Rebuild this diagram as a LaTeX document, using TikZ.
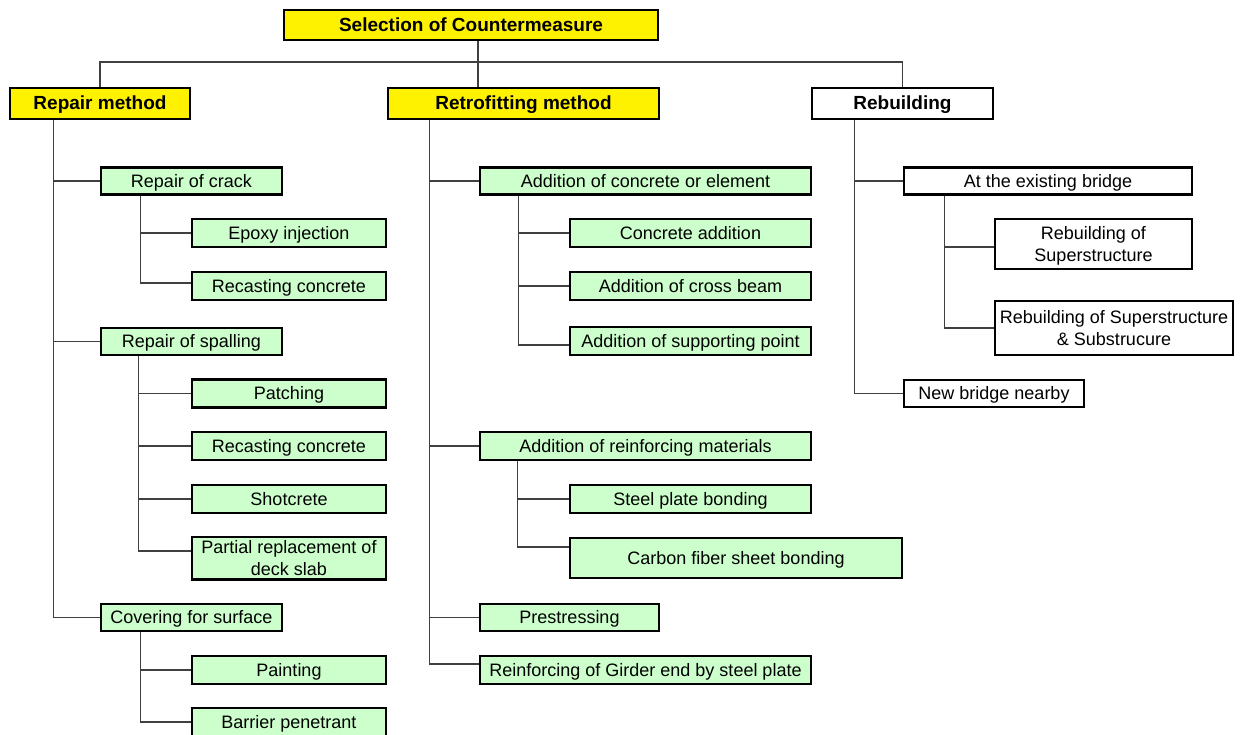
\documentclass[tikz,border=0pt]{standalone}
\usepackage{fontspec}
\setmainfont{Liberation Sans}
\begin{document}
\begin{tikzpicture}[x=1pt,y=-1pt,
  box/.style={draw=black, line width=2.6pt, inner sep=0pt, align=center,
    text height=16.6pt, text depth=3.8pt,
    font=\fontsize{18}{22}\selectfont},
  two/.style={text height=38.6pt, text depth=3.8pt},
  ybox/.style={box, fill=yellow, font=\fontsize{19}{22}\selectfont\bfseries},
  gbox/.style={box, fill=green!20},
  wbox/.style={box, fill=white},
  hbox/.style={box, fill=white, font=\fontsize{19}{22}\selectfont\bfseries},
  conn/.style={draw=black!75, line width=1.5pt}]
\useasboundingbox (0,0) rectangle (1240,735);
\clip (0,0) rectangle (1240,735);

% top level
\node[ybox, minimum width=374, minimum height=30] (top) at (471,25) {Selection of Countermeasure};
\coordinate (hub) at (478,62);

% main branches
\node[ybox, minimum width=180, minimum height=31] (rm) at (100,103.5) {Repair method};
\node[ybox, minimum width=271, minimum height=31] (rf) at (523.5,103.5) {Retrofitting method};
\node[hbox, minimum width=181, minimum height=31] (rb) at (902.5,103.5) {Rebuilding};

% repair method
\node[gbox, minimum width=181, minimum height=27] (rc) at (191.5,181) {Repair of crack};
\node[gbox, minimum width=194, minimum height=28] (ep) at (289,233) {Epoxy injection};
\node[gbox, minimum width=194, minimum height=28] (rcc) at (289,286) {Recasting concrete};
\node[gbox, minimum width=181, minimum height=27] (rs) at (191.5,341.5) {Repair of spalling};
\node[gbox, minimum width=194, minimum height=28] (pa) at (289,393.5) {Patching};
\node[gbox, minimum width=194, minimum height=28] (rcs) at (289,446) {Recasting concrete};
\node[gbox, minimum width=194, minimum height=28] (sh) at (289,499) {Shotcrete};
\node[gbox, two, minimum width=194, minimum height=42] (pr) at (289,558) {Partial replacement of\\deck slab};
\node[gbox, minimum width=181, minimum height=27] (cs) at (191.5,617.5) {Covering for surface};
\node[gbox, minimum width=194, minimum height=28] (pt) at (289,670) {Painting};
\node[gbox, minimum width=194, minimum height=28] (bp) at (289,722) {Barrier penetrant};

% retrofitting method
\node[gbox, minimum width=331, minimum height=27] (ac) at (645.5,181) {Addition of concrete or element};
\node[gbox, minimum width=241, minimum height=28] (ca) at (690.5,233) {Concrete addition};
\node[gbox, minimum width=241, minimum height=28] (cb) at (690.5,286) {Addition of cross beam};
\node[gbox, minimum width=241, minimum height=28] (sp) at (690.5,341) {Addition of supporting point};
\node[gbox, minimum width=331, minimum height=28] (ar) at (645.5,446) {Addition of reinforcing materials};
\node[gbox, minimum width=241, minimum height=28] (sb) at (690.5,499) {Steel plate bonding};
\node[gbox, minimum width=332, minimum height=40] (cf) at (736,558) {Carbon fiber sheet bonding};
\node[gbox, minimum width=179, minimum height=27] (ps) at (569.5,617.5) {Prestressing};
\node[gbox, minimum width=331, minimum height=28] (rg) at (645.5,670) {Reinforcing of Girder end by steel plate};

% rebuilding
\node[wbox, minimum width=288, minimum height=27] (eb) at (1048,181) {At the existing bridge};
\node[wbox, two, minimum width=197, minimum height=50] (su) at (1093.5,244) {Rebuilding of\\Superstructure};
\node[wbox, two, minimum width=238, minimum height=54] (ss) at (1114,328) {Rebuilding of Superstructure\\\& Substrucure};
\node[wbox, minimum width=180, minimum height=27] (nb) at (994,393.5) {New bridge nearby};

% connectors: top level
\draw[conn] ([xshift=7pt]top.south) -- (hub);
\draw[conn] (rm.north) |- (hub) -| (rb.north);
\draw[conn] (hub) -- (hub |- rf.north);

% connectors: repair method
\draw[conn] ([xshift=45pt]rm.south west) |- (rc.west);
\draw[conn] ([xshift=45pt]rm.south west) |- (rs.west);
\draw[conn] ([xshift=45pt]rm.south west) |- (cs.west);
\draw[conn] ([xshift=41pt]rc.south west) |- (ep.west);
\draw[conn] ([xshift=41pt]rc.south west) |- ([yshift=3pt]rcc.west);
\draw[conn] ([xshift=39pt]rs.south west) |- (pa.west);
\draw[conn] ([xshift=39pt]rs.south west) |- (rcs.west);
\draw[conn] ([xshift=39pt]rs.south west) |- (sh.west);
\draw[conn] ([xshift=39pt]rs.south west) |- ([yshift=7pt]pr.west);
\draw[conn] ([xshift=41pt]cs.south west) |- (pt.west);
\draw[conn] ([xshift=41pt]cs.south west) |- (bp.west);

% connectors: retrofitting method
\draw[conn] ([xshift=43pt]rf.south west) |- (ac.west);
\draw[conn] ([xshift=43pt]rf.south west) |- (ar.west);
\draw[conn] ([xshift=43pt]rf.south west) |- (ps.west);
\draw[conn] ([xshift=43pt]rf.south west) |- ([yshift=6pt]rg.west);
\draw[conn] ([xshift=40pt]ac.south west) |- (ca.west);
\draw[conn] ([xshift=40pt]ac.south west) |- (cb.west);
\draw[conn] ([xshift=40pt]ac.south west) |- ([yshift=-4pt]sp.west);
\draw[conn] ([xshift=39pt]ar.south west) |- (sb.west);
\draw[conn] ([xshift=39pt]ar.south west) |- ([yshift=11pt]cf.west);

% connectors: rebuilding
\draw[conn] ([xshift=44pt]rb.south west) |- (eb.west);
\draw[conn] ([xshift=44pt]rb.south west) |- (nb.west);
\draw[conn] ([xshift=42pt]eb.south west) |- ([yshift=-3pt]su.west);
\draw[conn] ([xshift=42pt]eb.south west) |- (ss.west);
\end{tikzpicture}
\end{document}
